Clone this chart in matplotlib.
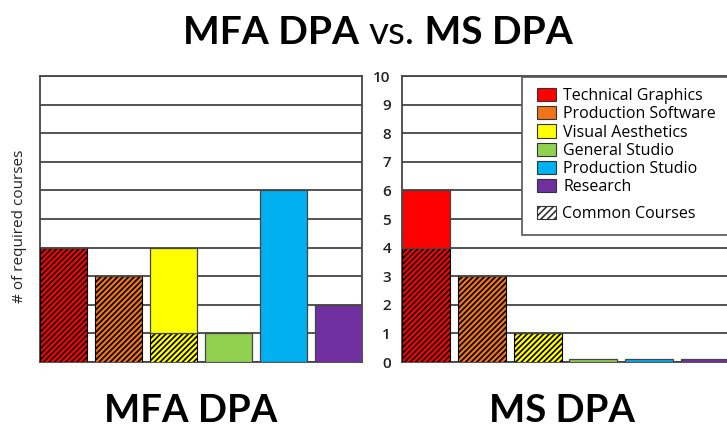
import matplotlib
matplotlib.use("Agg")
import matplotlib.pyplot as plt
from matplotlib.patches import Patch, Rectangle

# Course categories and colours
categories = ["Technical Graphics", "Production Software", "Visual Aesthetics",
              "General Studio", "Production Studio", "Research"]
colors = ["#FF0000", "#F0741A", "#FFFF00", "#92D050", "#00B0F0", "#7030A0"]

# Required courses per category (total and the part shared by both programs)
mfa_total = [4, 3, 4, 1, 6, 2]
mfa_common = [4, 3, 1, 0, 0, 0]
ms_total = [6, 3, 1, 0.12, 0.12, 0.12]
ms_common = [4, 3, 1, 0, 0, 0]

y_ticks = [0, 1, 2, 3, 4, 5, 6, 7, 8, 9, 10]
panel_titles = ["MFA DPA", "MS DPA"]

W, H = 727, 434
plt.rcParams["hatch.linewidth"] = 1.2
fig = plt.figure(figsize=(W / 100, H / 100), dpi=100)


def px_axes(x0, y0, x1, y1):
    return fig.add_axes([x0 / W, 1 - y1 / H, (x1 - x0) / W, (y1 - y0) / H])


ax_l = px_axes(40, 76, 362, 362)
ax_r = px_axes(402, 76, 729, 362)

grid_c = "#454545"
width = 0.86
HATCH = "//////"


def draw_panel(ax, total, common):
    x = list(range(len(categories)))
    ax.set_xlim(-0.43, len(categories) - 0.57)
    ax.set_ylim(0, 10)
    ax.set_yticks(y_ticks)
    ax.yaxis.grid(True, color=grid_c, linewidth=1.3)
    ax.set_axisbelow(True)
    ax.set_xticks([])
    for s in ax.spines.values():
        s.set_color(grid_c)
        s.set_linewidth(1.3)
    rest = [t - c for t, c in zip(total, common)]
    ax.bar(x, common, width=width, color=colors, edgecolor="black",
           linewidth=0.8, hatch=HATCH, zorder=3)
    ax.bar(x, rest, bottom=common, width=width, color=colors,
           edgecolor=grid_c, linewidth=0.9, zorder=3)


draw_panel(ax_l, mfa_total, mfa_common)
draw_panel(ax_r, ms_total, ms_common)

ax_l.tick_params(axis="y", length=0, labelleft=False)
ax_r.tick_params(axis="y", length=0, pad=8, labelsize=11, labelcolor="#222222")
for lab in ax_r.get_yticklabels():
    lab.set_fontfamily("Open Sans")
    lab.set_fontweight("semibold")
ax_r.spines["right"].set_visible(False)

fig.text(20 / W, 1 - 226 / H, "# of required courses", rotation=90,
         ha="center", va="center", fontsize=11, family="Open Sans",
         color="#222222")

# Legend: six category swatches, then the hatched "common" entry below a gap
frame = Rectangle((522 / W, 1 - 235 / H), (740 - 522) / W, (235 - 77) / H,
                  transform=fig.transFigure, facecolor="white",
                  edgecolor="#555555", linewidth=1.2, zorder=5, clip_on=False)
ax_r.add_patch(frame)

leg_font = {"family": "Open Sans", "size": 11.5}
handles = [Patch(facecolor=c, edgecolor="#333333", linewidth=0.8) for c in colors]
leg1 = ax_r.legend(handles, categories, loc="upper left",
                   bbox_to_anchor=(537 / W, 1 - 88 / H),
                   bbox_transform=fig.transFigure, frameon=False,
                   prop=leg_font,
                   handlelength=1.2, handleheight=0.9, handletextpad=0.45,
                   labelspacing=0.13, borderpad=0, borderaxespad=0)
ax_r.add_artist(leg1)
leg2 = ax_r.legend([Patch(facecolor="white", edgecolor="#333333", hatch="/////",
                          linewidth=0.8)], ["Common Courses"], loc="upper left",
                   bbox_to_anchor=(537 / W, 1 - 206 / H),
                   bbox_transform=fig.transFigure, frameon=False,
                   prop=leg_font,
                   handlelength=1.2, handleheight=0.9, handletextpad=0.35,
                   borderpad=0, borderaxespad=0)
leg1.set_zorder(6)
leg2.set_zorder(6)

# Panel captions under each chart
fig.text(191 / W, 1 - 411 / H, panel_titles[0], ha="center", va="center",
         fontsize=27.5, fontweight="bold", family="Lato")
fig.text(562 / W, 1 - 411 / H, panel_titles[1], ha="center", va="center",
         fontsize=27.5, fontweight="bold", family="Lato")

# Title built from three pieces so "vs." can be lighter
parts = [("MFA DPA ", "bold"), ("vs.", "normal"), (" MS DPA", "bold")]
fig.canvas.draw()
renderer = fig.canvas.get_renderer()
texts = []
for s, w in parts:
    t = fig.text(0, 1 - 33 / H, s, ha="left", va="center", fontsize=28,
                 fontweight=w, family="Lato")
    texts.append(t)
widths = [t.get_window_extent(renderer).width for t in texts]
x = 378 - sum(widths) / 2
for t, w in zip(texts, widths):
    t.set_x(x / W)
    x += w

fig.savefig("out.png", dpi=100)
